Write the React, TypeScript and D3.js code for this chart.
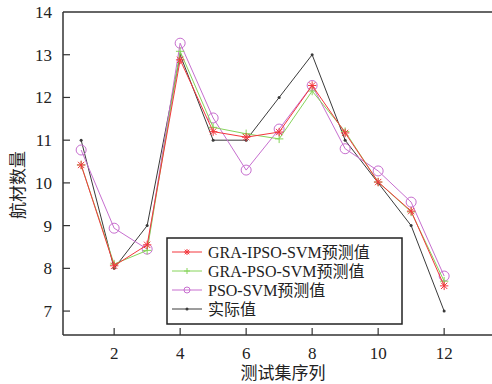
import React, { useRef, useEffect } from 'react';
import * as d3 from 'd3';

const samples = [1, 2, 3, 4, 5, 6, 7, 8, 9, 10, 11, 12];
const ipsoValues = [10.42, 8.06, 8.55, 12.88, 11.2, 11.07, 11.19, 12.28, 11.17, 10.02, 9.34, 7.59];
const psoGraValues = [10.42, 8.1, 8.42, 13.08, 11.3, 11.15, 11.03, 12.15, 11.2, 10.02, 9.32, 7.7];
const psoValues = [10.77, 8.94, 8.45, 13.27, 11.52, 10.3, 11.26, 12.28, 10.8, 10.28, 9.55, 7.82];
const actualValues = [11, 8, 9, 13, 11, 11, 12, 13, 11, 10, 9, 7];
const xTicks = [2, 4, 6, 8, 10, 12];
const yTicks = [7, 8, 9, 10, 11, 12, 13, 14];
const seriesNames = ['GRA-IPSO-SVM预测值', 'GRA-PSO-SVM预测值', 'PSO-SVM预测值', '实际值'];

const FONT = '"Liberation Serif", "Times New Roman", "Noto Sans CJK SC", serif';

const App = () => {
  const svgRef = useRef<SVGSVGElement>(null);

  useEffect(() => {
    const width = 492;
    const svg = d3.select(svgRef.current);
    svg.selectAll('*').remove();

    const x = d3.scaleLinear().domain([0.45, 13.45]).range([63, 492]);
    const y = d3.scaleLinear().domain([6.44, 14]).range([335, 12]);

    const series = [
      { name: seriesNames[0], values: ipsoValues, color: '#f3373d', marker: 'star' },
      { name: seriesNames[1], values: psoGraValues, color: '#86d45a', marker: 'plus' },
      { name: seriesNames[2], values: psoValues, color: '#c76fcf', marker: 'circle' },
      { name: seriesNames[3], values: actualValues, color: '#3a3a3a', marker: 'dot' },
    ];

    // 标记绘制
    const drawMarker = (g: any, cx: number, cy: number, type: string, color: string, s: number) => {
      if (type === 'circle') {
        g.append('circle').attr('cx', cx).attr('cy', cy).attr('r', s)
          .attr('fill', 'none').attr('stroke', color).attr('stroke-width', 1);
      } else if (type === 'dot') {
        g.append('circle').attr('cx', cx).attr('cy', cy).attr('r', 1.5).attr('fill', color);
      } else if (type === 'plus') {
        g.append('path').attr('d', `M${cx - s},${cy}H${cx + s}M${cx},${cy - s}V${cy + s}`)
          .attr('stroke', color).attr('stroke-width', 1);
      } else {
        const d = s * 0.75;
        g.append('path')
          .attr('d', `M${cx - s},${cy}H${cx + s}M${cx},${cy - s}V${cy + s}M${cx - d},${cy - d}L${cx + d},${cy + d}M${cx - d},${cy + d}L${cx + d},${cy - d}`)
          .attr('stroke', color).attr('stroke-width', 1);
      }
    };

    const line = d3.line<number>().x((d, i) => x(samples[i])).y(d => y(d));

    // 先画实际值，预测值在上面
    const order = [3, 2, 1, 0];
    order.forEach(k => {
      const s = series[k];
      const g = svg.append('g');
      g.append('path').attr('d', line(s.values)).attr('fill', 'none')
        .attr('stroke', s.color).attr('stroke-width', 1);
      s.values.forEach((v, i) => drawMarker(g, x(samples[i]), y(v), s.marker, s.color, s.marker === 'circle' ? 5 : 4.2));
    });

    // 坐标轴
    const axisColor = '#333';
    svg.append('line').attr('x1', 63).attr('x2', width).attr('y1', 12).attr('y2', 12)
      .attr('stroke', axisColor).attr('stroke-width', 1.5);
    svg.append('line').attr('x1', 63).attr('x2', width).attr('y1', 335).attr('y2', 335)
      .attr('stroke', axisColor).attr('stroke-width', 1.5);
    svg.append('line').attr('x1', 63).attr('x2', 63).attr('y1', 12).attr('y2', 335)
      .attr('stroke', axisColor).attr('stroke-width', 1.5);

    xTicks.forEach(t => {
      svg.append('line').attr('x1', x(t)).attr('x2', x(t)).attr('y1', 335).attr('y2', 328)
        .attr('stroke', axisColor).attr('stroke-width', 1.2);
      svg.append('text').attr('x', x(t)).attr('y', 359).attr('text-anchor', 'middle')
        .style('font-family', FONT).style('font-size', '17px').attr('fill', '#222').text(t);
    });
    yTicks.forEach(t => {
      if (t < 14) {
        svg.append('line').attr('x1', 63).attr('x2', 70).attr('y1', y(t)).attr('y2', y(t))
          .attr('stroke', axisColor).attr('stroke-width', 1.2);
      }
      svg.append('text').attr('x', 52).attr('y', y(t) + 6).attr('text-anchor', 'end')
        .style('font-family', FONT).style('font-size', '17px').attr('fill', '#222').text(t);
    });

    svg.append('text').attr('x', 283).attr('y', 379).attr('text-anchor', 'middle')
      .style('font-family', FONT).style('font-size', '17px').attr('fill', '#222').text('测试集序列');
    svg.append('text').attr('transform', 'translate(24,185) rotate(-90)').attr('text-anchor', 'middle')
      .style('font-family', FONT).style('font-size', '17px').attr('fill', '#222').text('航材数量');

    // 图例
    const lg = svg.append('g');
    lg.append('rect').attr('x', 167).attr('y', 238).attr('width', 235).attr('height', 86)
      .attr('fill', '#fff').attr('stroke', '#222').attr('stroke-width', 1.5);
    series.forEach((s, i) => {
      const cy = 252 + i * 19;
      lg.append('line').attr('x1', 172).attr('x2', 202).attr('y1', cy).attr('y2', cy)
        .attr('stroke', s.color).attr('stroke-width', 1);
      drawMarker(lg, 187, cy, s.marker, s.color, 3);
      lg.append('text').attr('x', 208).attr('y', cy + 6)
        .style('font-family', FONT).style('font-size', '16px').attr('fill', '#222').text(s.name);
    });
  }, []);

  return (
    <svg ref={svgRef} width={492} height={384}
      style={{ position: 'absolute', left: 0, top: 0, background: '#fff' }} />
  );
};

export default App;
